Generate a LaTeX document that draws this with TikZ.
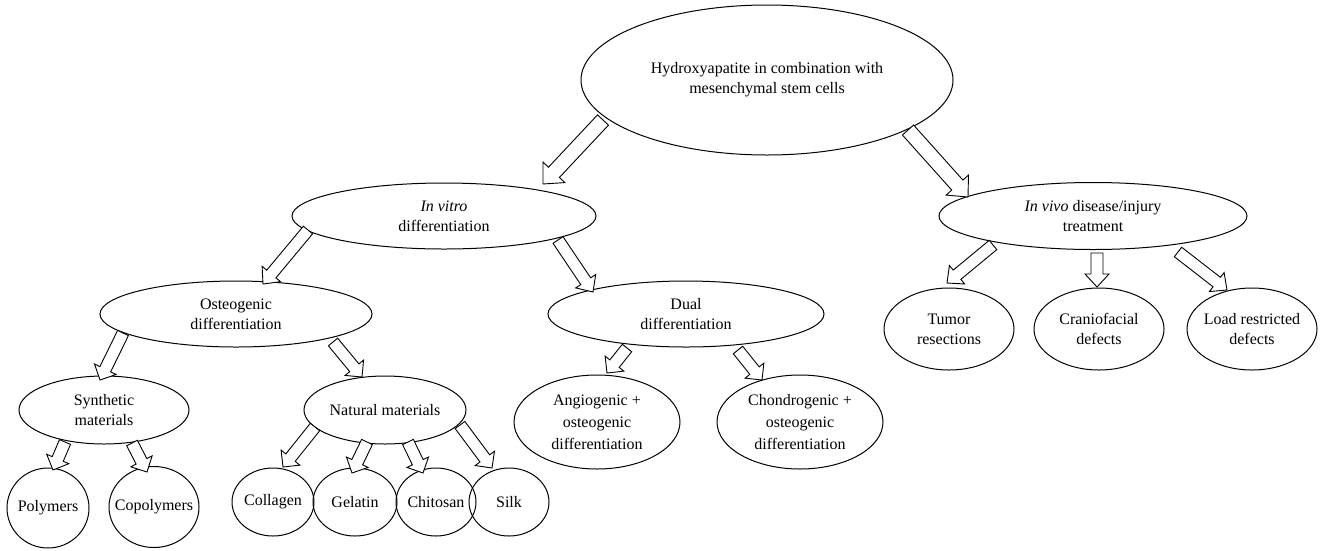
\documentclass[tikz,border=0pt]{standalone}
\usepackage{fontspec}
\setmainfont{Liberation Serif}
\usetikzlibrary{shapes.geometric,calc}
\tikzset{
  ell/.style={draw, ellipse, line width=1pt, inner sep=-12pt, align=center,
    font=\fontsize{16}{20}\selectfont},
  barrowline/.style={draw, fill=white, line width=0.9pt, line join=miter},
}
\newcommand\blockarr[5]{%
  \coordinate (bh) at ($(#2)!#5!(#1)$);
  \draw[barrowline] ($(#1)!#3!90:(#2)$) -- ($(bh)!#3!90:(#2)$) -- ($(bh)!#4!90:(#2)$)
    -- (#2) -- ($(bh)!#4!-90:(#2)$) -- ($(bh)!#3!-90:(#2)$) -- ($(#1)!#3!-90:(#2)$) -- cycle;}
\newcommand\bigarr[2]{\blockarr{#1}{#2}{7.5pt}{15pt}{16pt}}
\newcommand\medarr[2]{\blockarr{#1}{#2}{6pt}{12pt}{13pt}}
\newcommand\smallarr[2]{\blockarr{#1}{#2}{6pt}{12pt}{12pt}}
\begin{document}
\begin{tikzpicture}[x=1pt, y=-1pt]
\useasboundingbox (0,0) rectangle (1320,550);
% nodes
\node[ell, minimum width=372pt, minimum height=150pt] (top) at (767,80) {Hydroxyapatite in combination with\\mesenchymal stem cells};
\node[ell, minimum width=304pt, minimum height=66pt] (vitro) at (444,216) {\textit{In vitro}\\differentiation};
\node[ell, minimum width=308pt, minimum height=67pt] (vivo) at (1093,216) {\textit{In vivo} disease/injury\\treatment};
\node[ell, minimum width=272pt, minimum height=66pt] (osteo) at (236,314) {Osteogenic\\differentiation};
\node[ell, minimum width=276pt, minimum height=66pt] (dual) at (686,314) {Dual\\differentiation};
\node[ell, minimum width=170pt, minimum height=68pt] (synth) at (104,410) {Synthetic\\materials};
\node[ell, minimum width=162pt, minimum height=68pt] (nat) at (385,410) {Natural materials};
\node[ell, minimum width=82pt, minimum height=80pt] (poly) at (48,508) {Polymers};
\node[ell, minimum width=90pt, minimum height=81pt] (copoly) at (154,507) {Copolymers};
\node[ell, minimum width=82pt, minimum height=68pt] (coll) at (273,502) {Collagen};
\node[ell, minimum width=84pt, minimum height=68pt] (gel) at (355,502) {Gelatin};
\node[ell, minimum width=80pt, minimum height=68pt] (chit) at (436,502) {Chitosan};
\node[ell, minimum width=80pt, minimum height=68pt] (silk) at (509,502) {Silk};
\node[ell, minimum width=166pt, minimum height=94pt, font=\fontsize{16}{22}\selectfont] (angio) at (597,422) {Angiogenic +\\osteogenic\\differentiation};
\node[ell, minimum width=166pt, minimum height=94pt, font=\fontsize{16}{22}\selectfont] (chond) at (800,422) {Chondrogenic +\\osteogenic\\differentiation};
\node[ell, minimum width=130pt, minimum height=82pt] (tumor) at (949,329) {Tumor\\resections};
\node[ell, minimum width=130pt, minimum height=82pt] (cranio) at (1099,329) {Craniofacial\\defects};
\node[ell, minimum width=130pt, minimum height=82pt] (load) at (1252,329) {Load restricted\\defects};
% arrow end points
\coordinate (a1s) at (603,120);  \coordinate (a1e) at (543,184);
\coordinate (a2s) at (908,130);  \coordinate (a2e) at (968,197);
\coordinate (a3s) at (308,230);  \coordinate (a3e) at (263,284);
\coordinate (a4s) at (558,240);  \coordinate (a4e) at (593,292);
\coordinate (a5s) at (123,333);  \coordinate (a5e) at (100,380);
\coordinate (a6s) at (333,342);  \coordinate (a6e) at (362,377);
\coordinate (a7s) at (65,442);   \coordinate (a7e) at (53,470);
\coordinate (a8s) at (132,443);  \coordinate (a8e) at (147,472);
\coordinate (a9s) at (315,427);  \coordinate (a9e) at (283,467);
\coordinate (a10s) at (367,442); \coordinate (a10e) at (352,473);
\coordinate (a11s) at (408,442); \coordinate (a11e) at (423,473);
\coordinate (a12s) at (460,425); \coordinate (a12e) at (492,468);
\coordinate (a13s) at (627,348); \coordinate (a13e) at (607,373);
\coordinate (a14s) at (738,350); \coordinate (a14e) at (762,380);
\coordinate (a15s) at (993,245); \coordinate (a15e) at (947,283);
\coordinate (a16s) at (1097,253); \coordinate (a16e) at (1097,287);
\coordinate (a17s) at (1178,252); \coordinate (a17e) at (1227,290);
% arrows
\bigarr{a1s}{a1e}
\bigarr{a2s}{a2e}
\medarr{a3s}{a3e}
\medarr{a4s}{a4e}
\smallarr{a5s}{a5e}
\smallarr{a6s}{a6e}
\smallarr{a7s}{a7e}
\smallarr{a8s}{a8e}
\smallarr{a9s}{a9e}
\smallarr{a10s}{a10e}
\smallarr{a11s}{a11e}
\smallarr{a12s}{a12e}
\smallarr{a13s}{a13e}
\smallarr{a14s}{a14e}
\medarr{a15s}{a15e}
\medarr{a16s}{a16e}
\medarr{a17s}{a17e}
\end{tikzpicture}
\end{document}
